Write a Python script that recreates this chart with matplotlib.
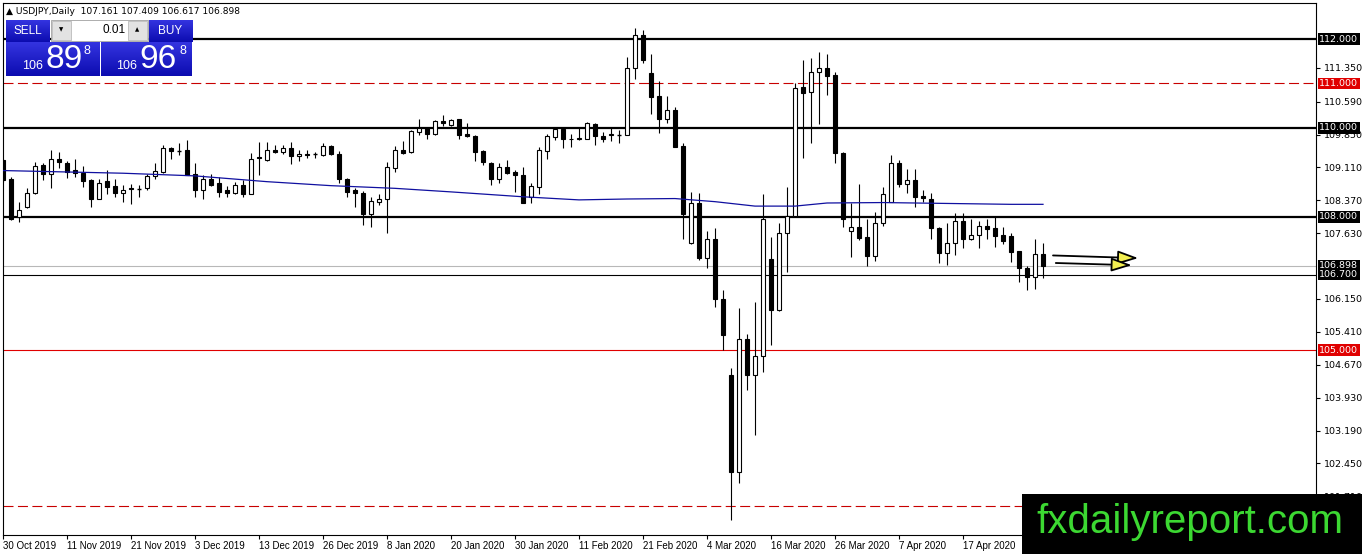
# USDJPY diario, estilo MetaTrader 4
import numpy as np
import pandas as pd
import matplotlib
matplotlib.use("Agg")
import matplotlib.pyplot as plt
from matplotlib.patches import Rectangle
from matplotlib.colors import LinearSegmentedColormap
from matplotlib.transforms import blended_transform_factory

# DATOS
aperturas = [109.27, 108.86, 108.00, 108.21, 108.54, 109.16, 108.97, 109.29, 109.20, 109.05,
             108.99, 108.82, 108.41, 108.80, 108.69, 108.54, 108.64, 108.63, 108.64, 108.91,
             109.01, 109.55, 109.49, 109.50, 108.96, 108.61, 108.86, 108.75, 108.60, 108.54,
             108.71, 108.52, 109.35, 109.27, 109.51, 109.46, 109.54, 109.36, 109.41, 109.42,
             109.39, 109.60, 109.42, 108.86, 108.61, 108.54, 108.06, 108.34, 108.41, 109.09,
             109.50, 109.46, 109.91, 109.99, 109.87, 110.15, 110.07, 110.19, 109.87, 109.81,
             109.48, 109.21, 108.86, 109.11, 109.01, 108.94, 108.45, 108.67, 109.48, 109.80,
             109.97, 109.76, 109.75, 109.76, 110.08, 109.81, 109.84, 109.85, 109.85, 111.34,
             112.09, 111.24, 110.71, 110.19, 110.40, 109.59, 107.40, 108.31, 107.08, 107.51,
             106.14, 104.44, 102.26, 105.26, 104.44, 104.86, 107.04, 105.90, 107.64, 108.01,
             110.91, 110.80, 111.25, 111.34, 111.19, 109.44, 107.68, 107.76, 107.54, 107.12,
             107.85, 108.34, 109.20, 108.73, 108.83, 108.47, 108.39, 107.74, 107.19, 107.42,
             107.90, 107.51, 107.60, 107.80, 107.74, 107.59, 107.57, 107.23, 106.85, 106.64,
             107.161]
maximos = [109.29, 108.90, 108.34, 108.64, 109.24, 109.20, 109.50, 109.46, 109.26, 109.29,
           109.14, 108.86, 108.86, 109.06, 108.86, 108.71, 108.73, 108.71, 108.97, 109.20,
           109.61, 109.57, 109.66, 109.72, 109.20, 108.94, 108.97, 108.90, 108.69, 108.78,
           108.82, 109.44, 109.69, 109.69, 109.61, 109.61, 109.69, 109.50, 109.50, 109.46,
           109.66, 109.61, 109.48, 108.88, 108.64, 108.57, 108.45, 108.52, 109.24, 109.59,
           109.70, 109.95, 110.21, 110.02, 110.17, 110.29, 110.21, 110.21, 110.10, 109.84,
           109.50, 109.24, 109.20, 109.27, 109.06, 109.12, 108.75, 109.57, 109.86, 110.02,
           110.00, 109.87, 109.99, 110.14, 110.10, 109.91, 109.99, 109.95, 111.60, 112.24,
           112.20, 111.67, 111.05, 110.71, 110.46, 109.66, 108.56, 108.54, 107.68, 107.74,
           106.35, 104.59, 105.94, 105.37, 106.09, 108.51, 107.55, 107.85, 108.67, 111.01,
           111.52, 111.58, 111.71, 111.67, 111.25, 109.46, 108.30, 108.74, 107.94, 108.11,
           108.68, 109.39, 109.28, 109.07, 109.07, 108.60, 108.53, 107.76, 107.87, 108.08,
           108.08, 107.94, 107.91, 107.94, 108.02, 107.76, 107.64, 107.24, 106.89, 107.49,
           107.409]
minimos = [108.79, 107.92, 107.89, 108.19, 108.52, 108.82, 108.64, 109.09, 108.88, 108.90,
           108.67, 108.22, 108.39, 108.52, 108.45, 108.34, 108.28, 108.45, 108.61, 108.86,
           108.99, 109.31, 109.39, 108.93, 108.45, 108.41, 108.70, 108.45, 108.45, 108.52,
           108.45, 108.51, 108.94, 109.26, 109.44, 109.41, 109.18, 109.26, 109.33, 109.33,
           109.36, 109.39, 108.76, 108.45, 108.22, 107.81, 107.77, 108.26, 107.64, 109.01,
           109.42, 109.44, 109.84, 109.76, 109.84, 110.04, 110.05, 109.76, 109.80, 109.25,
           109.16, 108.71, 108.75, 108.97, 108.56, 108.30, 108.30, 108.52, 109.31, 109.72,
           109.54, 109.56, 109.72, 109.74, 109.61, 109.69, 109.71, 109.65, 109.84, 111.11,
           111.46, 110.32, 109.89, 110.11, 109.56, 107.51, 107.38, 107.02, 106.84, 105.97,
           105.00, 101.17, 102.00, 104.10, 103.09, 104.51, 105.11, 105.89, 106.76, 108.00,
           109.33, 109.66, 110.08, 110.74, 109.20, 107.76, 107.10, 107.48, 106.89, 107.01,
           107.79, 108.33, 108.68, 108.53, 108.21, 108.34, 107.49, 106.97, 106.91, 107.14,
           107.29, 107.48, 107.29, 107.51, 107.33, 107.39, 106.99, 106.54, 106.35, 106.37,
           106.617]
cierres = [108.82, 107.96, 108.16, 108.54, 109.15, 108.97, 109.29, 109.23, 109.01, 108.99,
           108.81, 108.41, 108.77, 108.67, 108.54, 108.61, 108.62, 108.64, 108.91, 109.03,
           109.54, 109.48, 109.48, 108.94, 108.60, 108.84, 108.71, 108.56, 108.54, 108.72,
           108.51, 109.31, 109.32, 109.51, 109.46, 109.54, 109.36, 109.42, 109.39, 109.41,
           109.60, 109.42, 108.86, 108.56, 108.54, 108.07, 108.35, 108.41, 109.11, 109.50,
           109.44, 109.93, 109.99, 109.87, 110.15, 110.10, 110.17, 109.85, 109.82, 109.46,
           109.24, 108.86, 109.12, 108.99, 108.94, 108.31, 108.69, 109.50, 109.81, 109.97,
           109.74, 109.74, 109.77, 110.10, 109.82, 109.76, 109.86, 109.86, 111.34, 112.09,
           111.52, 110.70, 110.19, 110.40, 109.57, 108.07, 108.31, 107.08, 107.51, 106.14,
           105.34, 102.26, 105.26, 104.44, 104.86, 107.96, 105.90, 107.64, 108.01, 110.90,
           110.79, 111.25, 111.34, 111.17, 109.44, 107.94, 107.76, 107.53, 107.12, 107.85,
           108.51, 109.20, 108.73, 108.83, 108.45, 108.43, 107.74, 107.19, 107.42, 107.90,
           107.51, 107.60, 107.79, 107.72, 107.57, 107.46, 107.21, 106.84, 106.64, 107.16,
           106.898]

ma_vela = [0, 15, 24, 33, 41, 49, 56, 65, 72, 78, 84, 89, 94, 99, 103, 110, 118, 126, 130]
ma_valor = [109.04, 108.98, 108.92, 108.79, 108.70, 108.64, 108.56, 108.45, 108.38, 108.40,
            108.41, 108.34, 108.24, 108.24, 108.31, 108.32, 108.30, 108.28, 108.28]

# niveles horizontales
niveles_gruesos = [112.0, 110.0, 108.0]
niveles_rojos_punteados = [111.0, 101.5]
nivel_rojo = 105.0
nivel_negro = 106.7
precio_bid = 106.898

# etiquetas del eje de precios
ticks_precio = [111.35, 110.59, 109.85, 109.11, 108.37, 107.63, 106.15,
                105.41, 104.67, 103.93, 103.19, 102.45, 101.71]
etiquetas_niveles = [(112.0, "black"), (111.0, "#e00000"), (110.0, "black"),
                     (108.0, "black"), (105.0, "#e00000"), (106.898, "black"),
                     (106.7, "black")]

# fechas del eje x
fechas_etiqueta = ["2019-10-30", "2019-11-11", "2019-11-21", "2019-12-03", "2019-12-13",
                   "2019-12-26", "2020-01-08", "2020-01-20", "2020-01-30", "2020-02-11",
                   "2020-02-21", "2020-03-04", "2020-03-16", "2020-03-26", "2020-04-07",
                   "2020-04-17"]

# días de mercado (sin 25 dic ni 1 ene)
dias = pd.bdate_range("2019-10-30", "2020-05-01")
dias = dias.drop(pd.to_datetime(["2019-12-25", "2020-01-01"]))

W, H = 1362, 554
fig = plt.figure(figsize=(W / 100, H / 100), dpi=100)
fig.patch.set_facecolor("white")

ax = fig.add_axes([3 / W, 1 - 535 / H, 1313 / W, 532 / H])
ax.set_xlim(0, 164.125)
ax.set_ylim(100.84, 112.81)
for s in ax.spines.values():
    s.set_color("black")
    s.set_linewidth(0.8)

# Líneas horizontales
for nv in niveles_gruesos:
    ax.axhline(nv, color="black", lw=1.6, zorder=1)
for nv in niveles_rojos_punteados:
    ax.axhline(nv, color="#c80000", lw=0.8, dashes=(9, 4), zorder=1)
ax.axhline(nivel_rojo, color="#e00000", lw=0.8, zorder=1)
ax.axhline(precio_bid, color="#b8b8b8", lw=0.8, zorder=1)
ax.axhline(nivel_negro, color="black", lw=0.8, zorder=1)

# Velas
x = np.arange(len(cierres))
ancho = 0.5
for i in x:
    o, h, l, c = aperturas[i], maximos[i], minimos[i], cierres[i]
    ax.vlines(i, l, h, color="black", lw=0.8, zorder=2)
    abajo, alto = min(o, c), abs(c - o)
    if alto < 0.015:
        ax.hlines(o, i - ancho / 2 - 0.05, i + ancho / 2 + 0.05, color="black", lw=1.0, zorder=3)
    else:
        color = "white" if c > o else "black"
        ax.add_patch(Rectangle((i - ancho / 2, abajo), ancho, alto, facecolor=color,
                               edgecolor="black", lw=0.8, zorder=3))

# Media móvil
ax.plot(ma_vela, ma_valor, color="#1010a0", lw=0.9, zorder=4)

# Flechas amarillas
n = len(cierres) - 1
for y0, y1, x0, x1 in [(107.13, 107.07, n + 1.25, n + 11.9), (106.96, 106.91, n + 1.6, n + 11.1)]:
    ax.annotate("", xy=(x1, y1), xytext=(x0, y0),
                arrowprops=dict(arrowstyle="-|>,head_length=1.25,head_width=0.42",
                                fc="#f2ee50", ec="black", lw=1.3, shrinkA=0, shrinkB=0),
                zorder=5)

fuente = ["Liberation Sans", "DejaVu Sans"]

# Eje x con fechas
pos = dias.get_indexer(pd.to_datetime(fechas_etiqueta))
textos = [f"{d.day} {d.strftime('%b %Y')}" for d in pd.to_datetime(fechas_etiqueta)]
ax.set_xticks(pos)
ax.set_xticklabels(textos, fontsize=7, ha="left", family=fuente)
ax.tick_params(axis="x", length=3, width=0.8, pad=1.5)

# Eje de precios a la derecha
ax.yaxis.tick_right()
ax.set_yticks(ticks_precio)
ax.set_yticklabels([f"{t:.3f}" for t in ticks_precio], fontsize=6.8)
ax.tick_params(axis="y", length=3, width=0.8, pad=3)

trans = blended_transform_factory(ax.transAxes, ax.transData)
for nv, col in etiquetas_niveles:
    ax.text(1.0025, nv, f"{nv:.3f}", transform=trans, fontsize=6.8, color="white",
            va="center", ha="left", zorder=6, clip_on=False,
            bbox=dict(boxstyle="square,pad=0.15", fc=col, ec="none"))


# Panel de compra/venta arriba a la izquierda
def px(x0, y0, w, h):
    return [x0 / W, 1 - (y0 + h) / H, w / W, h / H]


def caja_azul(x0, y0, w, h):
    a = fig.add_axes(px(x0, y0, w, h), zorder=10)
    grad = np.linspace(0, 1, 50).reshape(-1, 1)
    cmap = LinearSegmentedColormap.from_list("az", ["#3434e0", "#0c0cb0"])
    a.imshow(grad, aspect="auto", cmap=cmap, extent=[0, 1, 0, 1])
    a.set_axis_off()


def txt(x0, y0, s, **kw):
    fig.text(x0 / W, 1 - y0 / H, s, zorder=12, **kw)


caja_azul(6, 20, 44, 22)
caja_azul(149, 20, 43, 22)
caja_azul(6, 42, 93, 34)
caja_azul(101, 42, 91, 34)
fig.add_artist(Rectangle((51 / W, 1 - 41 / H), 97 / W, 21 / H, transform=fig.transFigure,
                         fc="white", ec="#a0a0a0", lw=0.6, zorder=10))
fig.add_artist(Rectangle((52 / W, 1 - 40 / H), 19 / W, 19 / H, transform=fig.transFigure,
                         fc="#e2e2e2", ec="#b0b0b0", lw=0.5, zorder=11))
fig.add_artist(Rectangle((128 / W, 1 - 40 / H), 19 / W, 19 / H, transform=fig.transFigure,
                         fc="#e2e2e2", ec="#b0b0b0", lw=0.5, zorder=11))
txt(61, 30, "\u25bc", fontsize=4, ha="center", va="center", color="black", family="DejaVu Sans")
txt(137, 30, "\u25b2", fontsize=4, ha="center", va="center", color="black", family="DejaVu Sans")
txt(126, 30, "0.01", fontsize=8.5, ha="right", va="center", color="black", family=fuente)
txt(28, 31, "SELL", fontsize=8.5, ha="center", va="center", color="white", family=fuente)
txt(170, 31, "BUY", fontsize=8.5, ha="center", va="center", color="white", family=fuente)
txt(33, 66, "106", fontsize=9, ha="center", va="center", color="white", family=fuente)
txt(64, 59, "89", fontsize=24, ha="center", va="center", color="white", family=fuente)
txt(87, 51, "8", fontsize=9, ha="center", va="center", color="white", family=fuente)
txt(127, 66, "106", fontsize=9, ha="center", va="center", color="white", family=fuente)
txt(158, 59, "96", fontsize=24, ha="center", va="center", color="white", family=fuente)
txt(183, 51, "8", fontsize=9, ha="center", va="center", color="white", family=fuente)

# Título
txt(6, 11, "\u25b2 USDJPY,Daily  107.161 107.409 106.617 106.898", fontsize=6.6,
    ha="left", va="center", color="black", family="DejaVu Sans")

# Logo abajo a la derecha
fig.add_artist(Rectangle((1022 / W, 0), 340 / W, 60 / H, transform=fig.transFigure,
                         fc="black", ec="none", zorder=10))
txt(1190, 522, "fxdailyreport.com", fontsize=29, ha="center", va="center",
    color="#3cd832", family=fuente)

fig.savefig("out.png", dpi=100)
